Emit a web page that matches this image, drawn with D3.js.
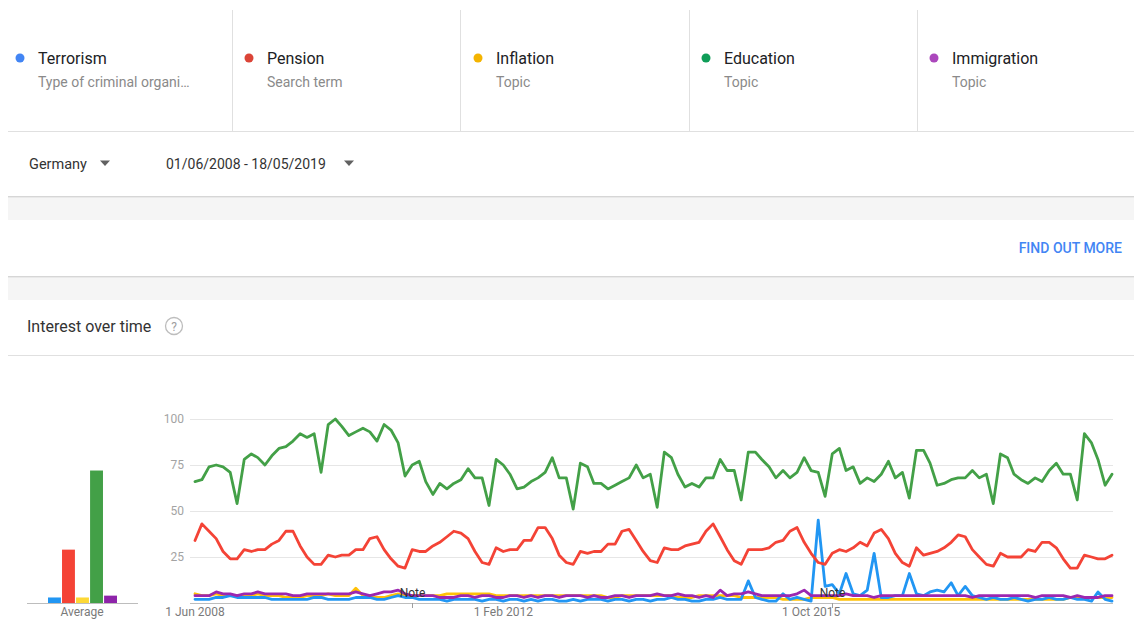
<!DOCTYPE html>
<html>
<head>
<meta charset="utf-8">
<script src="https://cdn.jsdelivr.net/npm/d3@7"></script>
<style>
  html, body { margin: 0; padding: 0; background: #fff; }
  svg { display: block; font-family: Roboto, "Noto Sans", Arial, sans-serif; }
</style>
</head>
<body>
<svg id="page" width="1134" height="619"></svg>
<script>
// ---------------- DATA ----------------
const seriesNames = ["Terrorism", "Pension", "Inflation", "Education", "Immigration"];
const seriesKinds = ["Type of criminal organi…", "Search term", "Topic", "Topic", "Topic"];
const region = "Germany";
const dateRange = "01/06/2008 - 18/05/2019";
const startMonth = "2008-06-01";   // first monthly point
const xTickLabels = ["1 Jun 2008", "1 Feb 2012", "1 Oct 2015"];
const xTickDates = ["2008-06-01", "2012-02-01", "2015-10-01"];
const noteDates = ["2011-01-01", "2016-01-01"];
const yTicks = [25, 50, 75, 100];

const terrorism = [
  2,2,2,3,3,4,3,3,3,3,3,2,
  2,2,2,2,2,3,3,2,2,2,2,3,
  3,3,2,2,3,4,3,3,2,2,2,2,
  1,2,2,2,2,1,2,2,1,2,2,1,
  2,1,2,2,1,1,2,1,2,2,2,1,
  2,2,1,2,2,1,2,2,3,2,2,1,
  1,2,2,3,2,2,2,12,3,2,1,1,
  5,2,3,2,1,45,9,10,5,16,5,4,
  7,27,3,3,4,4,16,5,4,6,7,6,
  11,4,9,4,3,2,3,2,2,3,2,1,
  2,2,3,2,2,3,2,2,1,6,2,1
];
const pension = [
  34,43,39,35,28,24,24,29,28,29,29,32,
  34,39,39,31,25,21,21,26,25,26,26,29,
  29,35,36,29,24,20,19,29,28,28,31,33,
  36,39,38,35,28,22,21,30,28,29,29,34,
  34,41,41,35,26,22,21,28,27,28,28,32,
  32,39,40,34,28,23,22,30,29,29,31,32,
  33,39,43,36,29,23,21,29,29,29,30,33,
  34,39,41,33,27,22,21,27,29,28,30,33,
  31,38,40,35,27,22,20,30,26,27,28,30,
  33,37,36,29,25,21,20,27,25,25,25,29,
  28,33,33,30,24,19,19,26,25,24,24,26
];
const inflation = [
  5,4,4,5,4,4,4,4,4,5,4,4,
  4,3,3,3,4,4,4,5,4,4,4,8,
  4,3,3,3,4,5,4,4,4,4,4,4,
  5,5,5,5,5,5,5,4,4,4,4,4,
  4,4,4,4,4,4,4,4,4,4,4,3,
  3,4,4,4,4,4,4,4,4,3,3,3,
  4,4,4,4,4,4,3,3,3,3,3,3,
  2,2,2,2,3,3,3,3,2,2,2,2,
  2,2,2,2,2,2,2,2,2,2,2,2,
  2,2,2,2,2,2,2,2,2,2,2,2,
  2,2,2,2,2,3,3,3,3,3,3,3
];
const education = [
  66,67,74,75,74,71,54,78,81,79,75,80,
  84,85,88,92,90,92,71,97,100,96,91,93,
  95,93,88,97,94,87,69,75,77,66,59,65,
  62,65,67,73,68,68,53,78,75,70,62,63,
  66,68,71,79,68,68,51,76,74,65,65,62,
  64,66,68,75,68,70,52,82,79,70,63,65,
  63,68,68,78,72,72,56,82,82,78,74,68,
  72,68,71,79,72,71,58,81,84,72,74,65,
  68,66,70,77,68,71,57,83,83,76,64,65,
  67,68,68,72,68,70,54,81,79,70,67,65,
  68,66,72,76,70,70,56,92,87,78,64,70
];
const immigration = [
  4,4,4,6,5,5,4,5,5,6,5,5,
  5,5,4,4,5,5,5,5,5,5,5,6,
  5,4,5,6,6,7,5,4,4,4,4,3,
  3,3,4,4,3,4,4,3,3,4,4,3,
  4,3,4,4,3,4,4,4,3,4,3,3,
  4,4,3,4,4,4,5,4,4,5,4,4,
  3,4,3,7,4,5,5,6,5,4,4,4,
  4,4,5,7,4,4,4,4,4,5,4,4,
  4,3,4,4,4,4,4,4,4,4,4,4,
  4,4,4,3,4,4,4,4,4,4,4,4,
  3,4,4,4,4,3,4,3,3,3,4,4
];
const averages = [3, 29, 3, 72, 4];

const dotColors  = ["#4285f4", "#db4437", "#f4b400", "#0f9d58", "#ab47bc"];
const lineColors = ["#2196f3", "#f44336", "#ffc107", "#43a047", "#9c27b0"];
const barColors  = ["#2196f3", "#f44336", "#fdd835", "#43a047", "#8e24aa"];

// ---------------- PAGE ----------------
const svg = d3.select("#page");
const parse = d3.utcParse("%Y-%m-%d");

// grey bands
svg.append("rect").attr("x", 8).attr("y", 197).attr("width", 1126).attr("height", 23).attr("fill", "#f5f5f5");
svg.append("rect").attr("x", 8).attr("y", 277).attr("width", 1126).attr("height", 23).attr("fill", "#f5f5f5");
// card shadows
[196, 276].forEach(yy => {
  svg.append("line").attr("x1", 8).attr("x2", 1134).attr("y1", yy + 0.5).attr("y2", yy + 0.5).attr("stroke", "#d6d6d6");
  svg.append("line").attr("x1", 8).attr("x2", 1134).attr("y1", yy + 1.5).attr("y2", yy + 1.5).attr("stroke", "#e9e9e9");
});
// dividers
svg.append("line").attr("x1", 8).attr("x2", 1134).attr("y1", 131.5).attr("y2", 131.5).attr("stroke", "#e0e0e0");
svg.append("line").attr("x1", 8).attr("x2", 1134).attr("y1", 355.5).attr("y2", 355.5).attr("stroke", "#e0e0e0");
const dividerX = [232, 460, 689, 917];
dividerX.forEach(dx => {
  svg.append("line").attr("x1", dx + 0.5).attr("x2", dx + 0.5).attr("y1", 10).attr("y2", 131).attr("stroke", "#e0e0e0");
});

// legend
const legendX = [20, 249, 478, 706, 934];
const leg = svg.append("g");
seriesNames.forEach((name, i) => {
  const x0 = legendX[i];
  leg.append("circle").attr("cx", x0).attr("cy", 58).attr("r", 4.5).attr("fill", dotColors[i]);
  leg.append("text").attr("x", x0 + 18).attr("y", 63.5).attr("font-size", 16).attr("fill", "#202124").text(name);
  leg.append("text").attr("x", x0 + 18).attr("y", 87).attr("font-size", 14).attr("fill", "#8a8a8a").text(seriesKinds[i]);
});

// selectors
function tri(cx, cy) {
  svg.append("path").attr("d", `M${cx - 5},${cy - 2.5}L${cx + 5},${cy - 2.5}L${cx},${cy + 3}Z`).attr("fill", "#616161");
}
svg.append("text").attr("x", 29).attr("y", 169).attr("font-size", 14.5).attr("fill", "#333").text(region);
tri(105, 163);
svg.append("text").attr("x", 166).attr("y", 169).attr("font-size", 14).attr("fill", "#333").text(dateRange);
tri(349, 163);

svg.append("text").attr("x", 1122).attr("y", 253).attr("text-anchor", "end").attr("font-size", 14)
  .attr("font-weight", 500).attr("fill", "#4285f4").text("FIND OUT MORE");

svg.append("text").attr("x", 27).attr("y", 332).attr("font-size", 16).attr("fill", "#333").text("Interest over time");
svg.append("circle").attr("cx", 174).attr("cy", 326).attr("r", 8.5).attr("fill", "none").attr("stroke", "#bdbdbd").attr("stroke-width", 1.3);
svg.append("text").attr("x", 174).attr("y", 330.5).attr("text-anchor", "middle").attr("font-size", 12).attr("fill", "#9e9e9e").text("?");

// ---------------- CHART ----------------
const start = parse(startMonth);
const n = education.length;
const dates = d3.range(n).map(i => d3.utcMonth.offset(start, i));
const x = d3.scaleUtc().domain([dates[0], dates[n - 1]]).range([195, 1112]);
const y = d3.scaleLinear().domain([0, 100]).range([603, 419]);

const chart = svg.append("g");
// grid
chart.append("g").selectAll("line").data(yTicks).join("line")
  .attr("x1", 190).attr("x2", 1113)
  .attr("y1", d => Math.round(y(d)) + 0.5).attr("y2", d => Math.round(y(d)) + 0.5)
  .attr("stroke", "#e6e6e6");
chart.append("g").selectAll("text").data(yTicks).join("text")
  .attr("x", 184).attr("y", d => y(d) + 4).attr("text-anchor", "end")
  .attr("font-size", 12).attr("fill", "#a3a3a3").text(d => d);
// baseline
chart.append("line").attr("x1", 190).attr("x2", 1113).attr("y1", y(0) + 0.5).attr("y2", y(0) + 0.5).attr("stroke", "#bdbdbd");
// x labels
chart.append("g").selectAll("text").data(xTickDates).join("text")
  .attr("x", d => x(parse(d))).attr("y", 616).attr("text-anchor", "middle")
  .attr("font-size", 12).attr("fill", "#7a7a7a").text((d, i) => xTickLabels[i]);

// lines
const allSeries = [terrorism, pension, inflation, education, immigration];
const line = d3.line().x((d, i) => x(dates[i])).y(d => y(d)).curve(d3.curveLinear);
const drawOrder = [2, 0, 1, 3, 4];
drawOrder.forEach(k => {
  chart.append("path").datum(allSeries[k]).attr("d", line)
    .attr("fill", "none").attr("stroke", lineColors[k]).attr("stroke-width", 2.8)
    .attr("stroke-linejoin", "round").attr("stroke-linecap", "round");
});

// notes
noteDates.forEach(d => {
  const nx = Math.round(x(parse(d))) + 0.5;
  chart.append("line").attr("x1", nx).attr("x2", nx).attr("y1", y(0)).attr("y2", y(0) + 5).attr("stroke", "#9e9e9e");
  chart.append("text").attr("x", nx).attr("y", 597).attr("text-anchor", "middle")
    .attr("font-size", 12).attr("fill", "#333").text("Note");
});

// ---------------- AVERAGE BARS ----------------
const xb = d3.scaleBand().domain(seriesNames).range([48, 117]).paddingInner(0.08).paddingOuter(0);
const avg = svg.append("g");
avg.selectAll("rect").data(averages).join("rect")
  .attr("x", (d, i) => xb(seriesNames[i])).attr("width", xb.bandwidth())
  .attr("y", d => y(d)).attr("height", d => y(0) - y(d))
  .attr("fill", (d, i) => barColors[i]);
avg.append("line").attr("x1", 27).attr("x2", 138).attr("y1", y(0) + 0.5).attr("y2", y(0) + 0.5).attr("stroke", "#bdbdbd");
avg.append("text").attr("x", 82).attr("y", 616).attr("text-anchor", "middle").attr("font-size", 12).attr("fill", "#7a7a7a").text("Average");
</script>
</body>
</html>
